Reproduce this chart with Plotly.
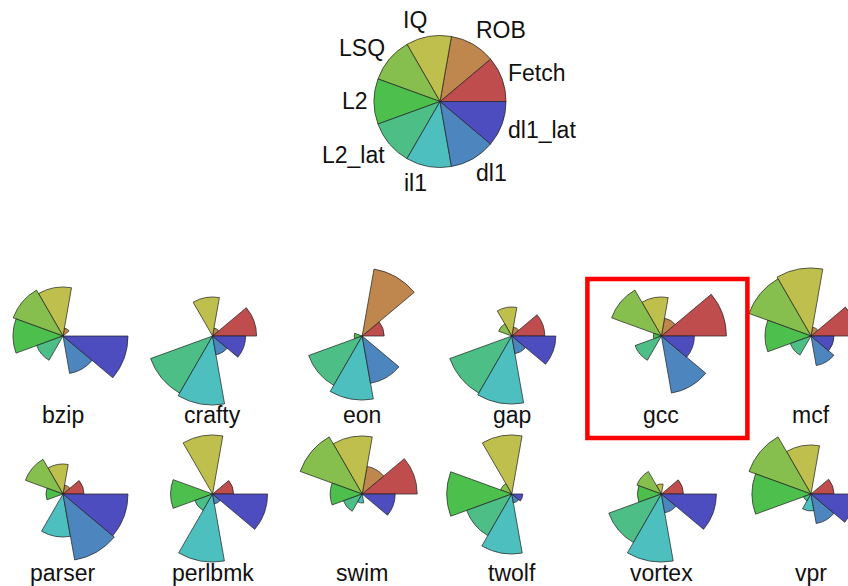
import math
import colorsys
import plotly.graph_objects as go

# Processor components, one sector each, counter-clockwise from east
parts = ["Fetch", "ROB", "IQ", "LSQ", "L2", "L2_lat", "il1", "dl1", "dl1_lat"]

# Benchmarks in reading order (two rows of six)
benchmarks = ["bzip", "crafty", "eon", "gap", "gcc", "mcf",
              "parser", "perlbmk", "swim", "twolf", "vortex", "vpr"]

# Sensitivity of each benchmark to each component (same order as parts)
bzip = [0, 8, 49, 53, 50, 28, 0, 38, 65]
crafty = [44, 8, 39, 0, 0, 66, 69, 19, 33]
eon = [22, 68, 0, 0, 8, 57, 64, 48, 0]
gap = [33, 9, 29, 14, 0, 66, 68, 18, 44]
gcc = [65, 18, 39, 53, 8, 28, 0, 58, 33]
mcf = [45, 9, 68, 66, 46, 22, 0, 30, 23]
parser = [21, 9, 30, 40, 17, 0, 43, 67, 65]
perlbmk = [21, 0, 59, 0, 42, 19, 68, 10, 55]
swim = [55, 28, 58, 66, 32, 20, 9, 0, 33]
twolf = [0, 0, 59, 12, 65, 48, 60, 9, 11]
vortex = [22, 0, 10, 26, 24, 56, 68, 19, 55]
vpr = [23, 0, 49, 66, 59, 8, 17, 30, 44]

# Key: every component drawn at full scale
key_values = [66, 66, 66, 66, 66, 66, 66, 66, 66]

highlighted = "gcc"

series = {
    "bzip": bzip, "crafty": crafty, "eon": eon, "gap": gap, "gcc": gcc,
    "mcf": mcf, "parser": parser, "perlbmk": perlbmk, "swim": swim,
    "twolf": twolf, "vortex": vortex, "vpr": vpr,
}

# Visible page is 848 x 586; the canvas runs a little past both sides so
# the roses in the first and last columns keep their full radial range.
VIEW_W, H = 848, 586
OFFSET = 8
W = VIEW_W + OFFSET + 50

SECTOR = 360 / len(parts)
thetas = [SECTOR / 2 + SECTOR * i for i in range(len(parts))]


# Hue ramp from red to blue, muted
def hsv_hex(h, s=0.6, v=0.75):
    r, g, b = colorsys.hsv_to_rgb(h, s, v)
    return "#%02x%02x%02x" % (round(r * 255), round(g * 255), round(b * 255))


colors = [hsv_hex((i * 30) / 360) for i in range(len(parts))]
outline = dict(color="rgba(35,35,35,0.8)", width=0.9)
FONT = "Liberation Sans, Arial, Helvetica, sans-serif"
TEXT_COLOR = "#111111"
FONT_SIZE = 23

# Panel centres in page pixels
col_x = [63 + 149.6 * i for i in range(6)]
row_y = [336, 494]
key_center = (440, 101.5)
KEY_LABEL_RX, KEY_LABEL_RY = 72, 83
HALF = 70          # radial range in pixels (1 unit = 1 px)
LABEL_DROP = 79    # benchmark name sits this far below the rose centre


def px(x):
    return (x + OFFSET) / W


def py(y):
    return 1 - y / H


def polar_layout(cx, cy):
    return dict(
        domain=dict(x=[px(cx - HALF), px(cx + HALF)],
                    y=[py(cy + HALF), py(cy - HALF)]),
        bgcolor="rgba(0,0,0,0)",
        bargap=0,
        angularaxis=dict(visible=False, showline=False, showgrid=False,
                         rotation=0, direction="counterclockwise"),
        radialaxis=dict(visible=False, showline=False, showgrid=False,
                        range=[0, HALF]),
    )


fig = go.Figure()
layout_polars = {}
annotations = []

# Key panel
layout_polars["polar"] = polar_layout(*key_center)
fig.add_trace(go.Barpolar(
    r=key_values, theta=thetas, width=[SECTOR] * len(parts),
    marker=dict(color=colors, line=outline), subplot="polar",
    hoverinfo="skip", showlegend=False,
))
# Key labels sit on a slightly flattened ring around the pie
for name, t in zip(parts, thetas):
    ex = KEY_LABEL_RX * math.cos(math.radians(t))
    ey = KEY_LABEL_RY * math.sin(math.radians(t))
    annotations.append(dict(
        x=px(key_center[0] + ex), y=py(key_center[1] - ey),
        xref="paper", yref="paper", text=name, showarrow=False,
        xanchor="left" if ex > 0 else "right", yanchor="middle",
        font=dict(size=FONT_SIZE, color=TEXT_COLOR, family=FONT),
        borderpad=0, borderwidth=0,
    ))

# One rose per benchmark
for k, name in enumerate(benchmarks):
    sp = "polar%d" % (k + 2)
    cx, cy = col_x[k % 6], row_y[k // 6]
    layout_polars[sp] = polar_layout(cx, cy)
    fig.add_trace(go.Barpolar(
        r=series[name], theta=thetas, width=[SECTOR] * len(parts),
        marker=dict(color=colors, line=outline), subplot=sp,
        hoverinfo="skip", showlegend=False,
    ))
    annotations.append(dict(
        x=px(cx), y=py(cy + LABEL_DROP), xref="paper", yref="paper",
        text=name, showarrow=False, xanchor="center", yanchor="middle",
        font=dict(size=FONT_SIZE, color=TEXT_COLOR, family=FONT),
        borderpad=0, borderwidth=0,
    ))
    if name == highlighted:
        fig.add_shape(
            type="rect", xref="paper", yref="paper",
            x0=px(cx - 74), x1=px(cx + 86),
            y0=py(cy + 102), y1=py(cy - 57),
            line=dict(color="#ff0000", width=4.5), fillcolor="rgba(0,0,0,0)",
        )

fig.update_layout(
    width=W, height=H, autosize=False,
    margin=dict(l=0, r=0, t=0, b=0),
    paper_bgcolor="white", plot_bgcolor="white",
    showlegend=False,
    annotations=annotations,
    **layout_polars,
)

# Shift the canvas so the page starts OFFSET px into it, and hide overflow
fig.write_html(
    "out.html",
    post_script=(
        "document.body.style.margin='0';"
        "document.body.style.overflow='hidden';"
        "document.documentElement.style.overflow='hidden';"
        "var gd=document.getElementById('{plot_id}');"
        "gd.style.marginLeft='-%dpx';" % OFFSET
    ),
)
